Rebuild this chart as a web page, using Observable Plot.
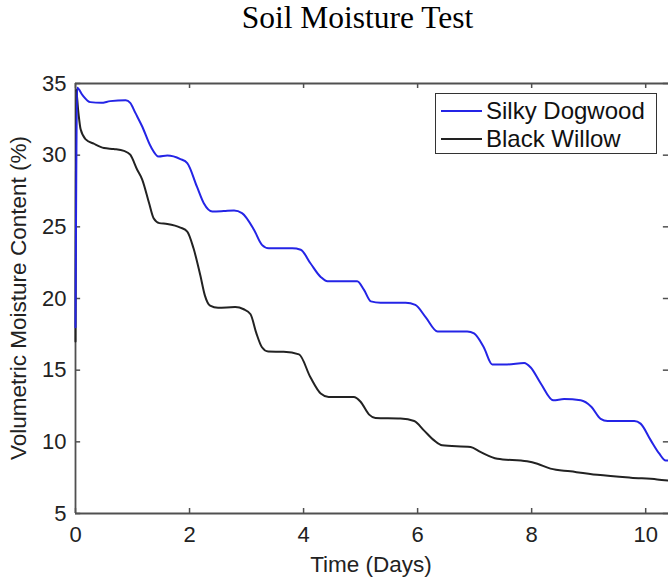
<!DOCTYPE html>
<html>
<head>
<meta charset="utf-8">
<script src="https://cdn.jsdelivr.net/npm/d3@7"></script>
<script src="https://cdn.jsdelivr.net/npm/@observablehq/plot@0.6"></script>
<style>
  html, body { margin: 0; padding: 0; background: #fff; }
  #wrap { position: relative; width: 668px; height: 580px; overflow: hidden; font-family: "Liberation Sans", Arial, sans-serif; }
  #title { position: absolute; left: 0; width: 715px; top: 2px; text-align: center; font-family: "Liberation Serif", "Times New Roman", serif; font-size: 31.5px; line-height: 1; color: #000; }
  #chart { position: absolute; left: 0; top: 50px; }
  #xlabel { position: absolute; left: 371px; top: 565px; transform: translate(-50%, -50%); font-size: 22.5px; line-height: 1; color: #222; white-space: nowrap; }
  #ylabel { position: absolute; left: 19px; top: 298px; transform: translate(-50%, -50%) rotate(-90deg); font-size: 22.5px; line-height: 1; color: #222; white-space: nowrap; }
  #legend { position: absolute; left: 435px; top: 93px; width: 222px; height: 61px; border: 1.6px solid #333; box-sizing: border-box; background: #fff; }
  .entry { position: absolute; left: 0; height: 28px; font-size: 24px; color: #111; line-height: 28px; white-space: nowrap; }
  .swatch { position: absolute; left: 5px; width: 41px; height: 0; border-top: 2px solid; }
  .entry span { position: absolute; left: 50px; top: 0; }
</style>
</head>
<body>
<div id="wrap">
  <div id="title">Soil Moisture Test</div>
  <div id="chart"></div>
  <div id="xlabel">Time (Days)</div>
  <div id="ylabel">Volumetric Moisture Content (%)</div>
  <div id="legend"></div>
</div>
<script>
// ---- data ----
const seriesNames = ["Silky Dogwood", "Black Willow"];
const seriesColors = ["#2424e6", "#222222"];

const silkyDays = [0, 0.03, 0.12, 0.26, 0.45, 0.61, 0.88, 0.96, 1.05, 1.17, 1.32, 1.46, 1.61, 1.84, 1.96, 2.13, 2.25, 2.40, 2.60, 2.78, 2.92, 3.13, 3.27, 3.39, 3.80, 3.95, 4.12, 4.30, 4.42, 4.94, 5.06, 5.18, 5.35, 5.79, 5.96, 6.14, 6.35, 6.87, 6.99, 7.16, 7.31, 7.57, 7.87, 7.98, 8.16, 8.38, 8.57, 8.86, 9.05, 9.21, 9.33, 9.80, 9.91, 10.09, 10.24, 10.35, 10.4];
const silkyMoisture = [18, 34.7, 34.2, 33.7, 33.65, 33.77, 33.83, 33.65, 32.95, 32.0, 30.6, 29.9, 29.97, 29.73, 29.45, 27.8, 26.65, 26.07, 26.1, 26.14, 25.96, 24.8, 23.74, 23.5, 23.5, 23.4, 22.46, 21.5, 21.2, 21.2, 20.6, 19.8, 19.7, 19.7, 19.55, 18.7, 17.7, 17.7, 17.56, 16.6, 15.4, 15.4, 15.5, 15.2, 14.07, 12.9, 12.98, 12.9, 12.43, 11.6, 11.45, 11.45, 11.27, 10.1, 9.17, 8.7, 8.7];

const willowDays = [0, 0.01, 0.05, 0.09, 0.18, 0.32, 0.50, 0.67, 0.85, 0.96, 1.08, 1.17, 1.29, 1.37, 1.47, 1.61, 1.84, 1.96, 2.07, 2.19, 2.27, 2.36, 2.5, 2.8, 2.95, 3.07, 3.17, 3.27, 3.38, 3.65, 3.92, 4.12, 4.30, 4.44, 4.88, 5.0, 5.15, 5.26, 5.70, 5.94, 6.11, 6.29, 6.43, 6.93, 7.1, 7.40, 7.92, 8.10, 8.33, 8.68, 9.15, 9.74, 10.2, 10.4];
const willowMoisture = [17, 34.6, 33.0, 31.8, 31.1, 30.8, 30.5, 30.43, 30.3, 30.03, 29.0, 28.3, 26.66, 25.6, 25.26, 25.2, 24.95, 24.67, 23.5, 21.6, 20.2, 19.5, 19.35, 19.4, 19.25, 18.9, 17.6, 16.6, 16.3, 16.28, 16.1, 14.5, 13.37, 13.13, 13.13, 12.8, 11.9, 11.66, 11.62, 11.45, 10.8, 10.1, 9.76, 9.64, 9.3, 8.82, 8.64, 8.47, 8.13, 7.94, 7.7, 7.5, 7.38, 7.3];

const xTicks = [0, 2, 4, 6, 8, 10];
const yTicks = [5, 10, 15, 20, 25, 30, 35];
const xDomain = [0, 10.4];
const yDomain = [5, 35];

// ---- build tables ----
const silky = silkyDays.map((t, i) => ({t, v: silkyMoisture[i]}));
const willow = willowDays.map((t, i) => ({t, v: willowMoisture[i]}));

const frameColor = "#505050";
const tx = 0.09;   // inward tick length in x units
const ty = 0.35;   // inward tick length in y units

const chart = Plot.plot({
  width: 668,
  height: 530,
  marginLeft: 75,
  marginRight: 0,
  marginTop: 33,
  marginBottom: 67,
  style: {fontFamily: "'Liberation Sans', Arial, sans-serif", fontSize: "22px", color: "#222", background: "#fff", overflow: "visible"},
  x: {domain: xDomain, ticks: xTicks, tickSize: 0, tickPadding: 13, label: null},
  y: {domain: yDomain, ticks: yTicks, tickSize: 0, tickPadding: 9, label: null},
  marks: [
    // frame (top, bottom, left)
    Plot.ruleY(yDomain, {stroke: frameColor, strokeWidth: 1.8}),
    Plot.ruleX([xDomain[0]], {stroke: frameColor, strokeWidth: 1.8}),
    // inward ticks
    Plot.ruleX(xTicks, {x: d => d, y1: yDomain[0], y2: yDomain[0] + ty, stroke: frameColor, strokeWidth: 1.5}),
    Plot.ruleX(xTicks, {x: d => d, y1: yDomain[1] - ty, y2: yDomain[1], stroke: frameColor, strokeWidth: 1.5}),
    Plot.ruleY(yTicks, {y: d => d, x1: xDomain[0], x2: xDomain[0] + tx, stroke: frameColor, strokeWidth: 1.5}),
    Plot.ruleY(yTicks, {y: d => d, x1: xDomain[1] - tx, x2: xDomain[1], stroke: frameColor, strokeWidth: 1.5}),
    // series
    Plot.line(willow, {x: "t", y: "v", stroke: seriesColors[1], strokeWidth: 2, curve: "monotone-x"}),
    Plot.line(silky, {x: "t", y: "v", stroke: seriesColors[0], strokeWidth: 2, curve: "monotone-x"})
  ]
});
document.getElementById("chart").appendChild(chart);

// legend
const legend = document.getElementById("legend");
seriesNames.forEach((name, i) => {
  const e = document.createElement("div");
  e.className = "entry";
  e.style.top = (i === 0 ? 3 : 31) + "px";
  const sw = document.createElement("div");
  sw.className = "swatch";
  sw.style.borderTopColor = seriesColors[i];
  sw.style.top = "13px";
  const s = document.createElement("span");
  s.textContent = name;
  e.appendChild(sw);
  e.appendChild(s);
  legend.appendChild(e);
});
</script>
</body>
</html>
